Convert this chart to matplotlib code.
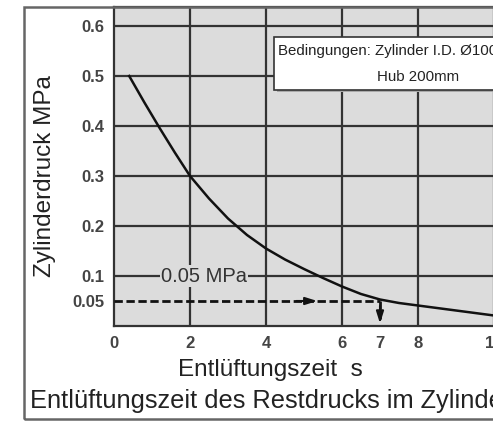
import numpy as np
import matplotlib.pyplot as plt
from matplotlib.patches import Rectangle

plt.rcParams['font.family'] = ['Liberation Sans', 'DejaVu Sans']

# Entlüftungszeit (s) vs. Zylinderdruck (MPa)
zeit = [0.4, 0.8, 1.2, 1.6, 2.0, 2.5, 3.0, 3.5, 4.0, 4.5, 5.0, 5.5, 6.0, 6.5, 7.0, 7.5, 8.0, 9.0, 10.0, 10.5]
druck = [0.5, 0.447, 0.396, 0.347, 0.3, 0.255, 0.215, 0.182, 0.155, 0.133, 0.114, 0.096, 0.079, 0.064, 0.053, 0.046, 0.041, 0.031, 0.021, 0.017]

xticks = [0, 2, 4, 6, 7, 8, 10]
yticks = [0.05, 0.1, 0.2, 0.3, 0.4, 0.5, 0.6]
xgrid = [2, 4, 6, 8, 10]
ygrid = [0.1, 0.2, 0.3, 0.4, 0.5, 0.6]
ziel_druck = 0.05
ziel_zeit = 7

W, H = 493, 421
fig = plt.figure(figsize=(W / 100, H / 100), dpi=100)

def fx(px):
    return px / W

def fy(py):
    return 1 - py / H

# outer frame
fig.patches.append(Rectangle((fx(24), fy(419)), 1.2, fy(7) - fy(419), transform=fig.transFigure,
                             fill=False, edgecolor='#666666', lw=1.8))

ax = fig.add_axes([fx(114), fy(326), 10.5 * 38 / W, (326 - 7) / H])
ax.set_facecolor('#dcdcdc')
ax.set_xlim(0, 10.5)
ax.set_ylim(0, 0.638)
for x in xgrid:
    ax.axvline(x, color='#333333', lw=1.6, zorder=1)
for y in ygrid:
    ax.axhline(y, color='#333333', lw=1.6, zorder=1)
for s in ax.spines.values():
    s.set_color('#333333')
    s.set_linewidth(1.6)

ax.plot(zeit, druck, color='#111111', lw=1.8, zorder=3)

# 0.05 MPa guide
ax.plot([0, ziel_zeit], [ziel_druck, ziel_druck], color='#111111', lw=2, ls=(0, (3, 1.3)), zorder=4)
ax.plot([ziel_zeit, ziel_zeit], [ziel_druck, 0.015], color='#111111', lw=2, ls=(0, (3, 1.3)), zorder=4)
ax.annotate('', xy=(5.35, ziel_druck), xytext=(4.8, ziel_druck),
            arrowprops=dict(arrowstyle='-|>,head_length=0.7,head_width=0.22', color='#111111', lw=1.5,
                            shrinkA=0, shrinkB=0), zorder=5)
ax.annotate('', xy=(ziel_zeit, 0.005), xytext=(ziel_zeit, 0.04),
            arrowprops=dict(arrowstyle='-|>,head_length=0.7,head_width=0.22', color='#111111', lw=1.5,
                            shrinkA=0, shrinkB=0), zorder=5)
ax.text(2.37, 0.1, '0.05 MPa', fontsize=14.5, color='#333333', ha='center', va='center', zorder=4,
        bbox=dict(facecolor='#dcdcdc', edgecolor='none', pad=1))

ax.set_xticks(xticks)
ax.set_xticklabels([str(v) for v in xticks], fontweight='bold', color='#444444', fontsize=12)
ax.set_yticks(yticks)
ax.set_yticklabels([str(v) for v in yticks], fontweight='bold', color='#444444', fontsize=12)
ax.tick_params(length=0, pad=7)

fig.text(fx(45), fy(176), 'Zylinderdruck MPa', rotation=90, fontsize=17.5, color='#222222',
         ha='center', va='center')
fig.text(fx(270), fy(370), 'Entlüftungszeit  s', fontsize=17.5, color='#222222', ha='center', va='center')
fig.text(fx(30), fy(401), 'Entlüftungszeit des Restdrucks im Zylinder', fontsize=18.3, color='#222222',
         ha='left', va='center')

# conditions box
fig.patches.append(Rectangle((fx(277), fy(92)), fx(300), fy(37) - fy(92), transform=fig.transFigure,
                             facecolor='#aaaaaa', edgecolor='none', zorder=5))
fig.patches.append(Rectangle((fx(274), fy(90)), fx(300), fy(37) - fy(90), transform=fig.transFigure,
                             facecolor='white', edgecolor='#333333', lw=1.2, zorder=6))
fig.text(fx(278), fy(51), 'Bedingungen: Zylinder I.D. Ø100', fontsize=10.8, color='#222222',
         ha='left', va='center', zorder=7)
fig.text(fx(418), fy(77), 'Hub 200mm', fontsize=10.8, color='#222222', ha='center', va='center', zorder=7)

fig.savefig('out.png', dpi=100)
